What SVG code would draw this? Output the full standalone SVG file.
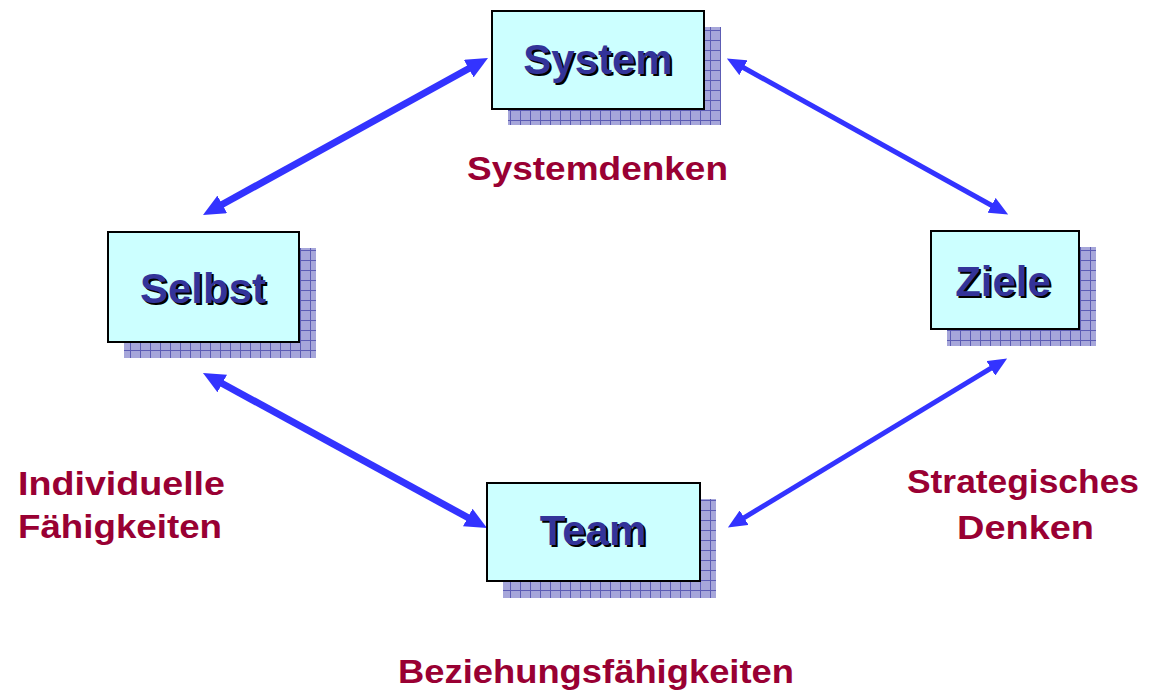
<svg xmlns="http://www.w3.org/2000/svg" width="1151" height="694" viewBox="0 0 1151 694">
<defs>
<pattern id="grid" width="10" height="10" patternUnits="userSpaceOnUse">
<rect width="10" height="10" fill="#a6a6da"/>
<path d="M0,0.5 H10 M0.5,0 V10" stroke="#5c5cb4" stroke-width="1"/>
</pattern>
<marker id="ahB" viewBox="0 0 22 20" markerWidth="22" markerHeight="20" refX="10" refY="10" orient="auto-start-reverse" markerUnits="userSpaceOnUse">
<path d="M0,0 L22,10 L0,20 z" fill="#3333ff"/>
</marker>
<marker id="ahS" viewBox="0 0 19 17" markerWidth="19" markerHeight="17" refX="8" refY="8.5" orient="auto-start-reverse" markerUnits="userSpaceOnUse">
<path d="M0,0 L19,8.5 L0,17 z" fill="#3333ff"/>
</marker>
</defs>
<style>
.shadow{fill:url(#grid)}
.box{fill:#ccffff;stroke:#000;stroke-width:2}
.nt{font-family:"Liberation Sans",Arial,sans-serif;font-weight:bold;font-size:42px;text-anchor:middle}
.nts{fill:#000}
.ntf{fill:#333399}
.lbl{font-family:"Liberation Sans",Arial,sans-serif;font-weight:bold;font-size:33px;fill:#990033}
.heavy{stroke:#3333ff;stroke-width:7;fill:none;marker-start:url(#ahB);marker-end:url(#ahB)}
.light{stroke:#3333ff;stroke-width:5;fill:none;marker-start:url(#ahS);marker-end:url(#ahS)}
</style>
<rect width="1151" height="694" fill="#fff"/>
<g id="connectors">
<line class="heavy" x1="213.5" y1="209.2" x2="477.5" y2="63.8"/>
<line class="light" x1="736.5" y1="63.8" x2="998.5" y2="209.2"/>
<line class="heavy" x1="213.5" y1="378.7" x2="476.5" y2="522.3"/>
<line class="light" x1="997.7" y1="364.2" x2="737.3" y2="521.8"/>
</g>
<g id="node-system">
<rect class="shadow" x="508" y="27" width="213" height="98"/>
<rect class="box" x="492" y="11" width="212" height="98"/>
<text class="nt nts" x="600" y="76">System</text>
<text class="nt ntf" x="598" y="74">System</text>
</g>
<g id="node-selbst">
<rect class="shadow" x="124" y="248" width="192" height="110"/>
<rect class="box" x="108" y="232" width="191" height="110"/>
<text class="nt nts" x="205" y="305">Selbst</text>
<text class="nt ntf" x="203" y="303">Selbst</text>
</g>
<g id="node-ziele">
<rect class="shadow" x="947" y="247" width="149" height="99"/>
<rect class="box" x="931" y="231" width="148" height="98"/>
<text class="nt nts" x="1005" y="298">Ziele</text>
<text class="nt ntf" x="1003" y="296">Ziele</text>
</g>
<g id="node-team">
<rect class="shadow" x="503" y="499" width="213" height="99"/>
<rect class="box" x="487" y="483" width="213" height="98"/>
<text class="nt nts" x="595" y="547">Team</text>
<text class="nt ntf" x="593" y="545">Team</text>
</g>
<g id="labels">
<text class="lbl" x="467" y="180" textLength="261" lengthAdjust="spacingAndGlyphs">Systemdenken</text>
<text class="lbl" x="18" y="495" textLength="207" lengthAdjust="spacingAndGlyphs">Individuelle</text>
<text class="lbl" x="18" y="538" textLength="204" lengthAdjust="spacingAndGlyphs">Fähigkeiten</text>
<text class="lbl" x="907" y="493" textLength="232" lengthAdjust="spacingAndGlyphs">Strategisches</text>
<text class="lbl" x="957" y="539" textLength="137" lengthAdjust="spacingAndGlyphs">Denken</text>
<text class="lbl" x="398" y="683" textLength="396" lengthAdjust="spacingAndGlyphs">Beziehungsfähigkeiten</text>
</g>
</svg>
